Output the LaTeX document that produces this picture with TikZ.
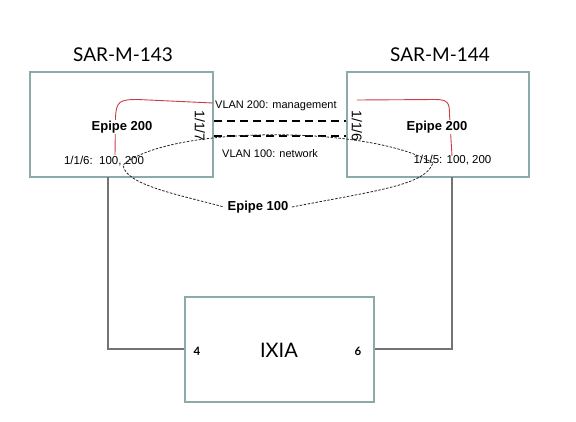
\documentclass[tikz,border=0pt]{standalone}
\usepackage{fontspec}
\setmainfont{Liberation Sans}
\newfontfamily\titlefont{Lato}
\usepackage{tikz}
\usetikzlibrary{positioning}
\definecolor{boxteal}{RGB}{140,170,170}
\definecolor{wiregray}{RGB}{115,115,115}
\definecolor{vlanred}{RGB}{205,60,70}
\newcommand{\fsz}[1]{\fontsize{#1}{#1}\selectfont}

\begin{document}
\begin{tikzpicture}[
    x=1pt, y=-1pt,
    router/.style={rectangle, draw=boxteal, line width=2pt, fill=none},
    title/.style={font=\titlefont\fsz{19}},
    epipe/.style={font=\bfseries\fsz{13}, fill=white, inner sep=1pt, anchor=base},
    portlbl/.style={font=\fsz{11.5}, anchor=base},
    vlanlbl/.style={font=\fsz{11}, anchor=base west, inner sep=0pt},
    link/.style={draw=wiregray, line width=1.2pt},
    trunk/.style={draw=black, line width=2.4pt, dash pattern=on 8pt off 5pt},
    svc/.style={draw=vlanred, line width=0.9pt},
    pw/.style={draw=black!85, line width=0.8pt, dash pattern=on 2.5pt off 1.5pt}
]
\useasboundingbox (0,0) rectangle (576,421);

% Routers
\node[router, minimum width=183pt, minimum height=105pt] (sar143) at (121.5,124.5) {};
\node[router, minimum width=182pt, minimum height=105pt] (sar144) at (438,124.5) {};
\node[title] (t143) at (123,55) {SAR-M-143};
\node[title] (t144) at (440,55) {SAR-M-144};

% Tester
\node[router, minimum width=189pt, minimum height=105pt] (ixia) at (279.5,349) {};
\node[font=\titlefont\fsz{20}] (ixialbl) at (279,350) {IXIA};
\node[font=\titlefont\bfseries\fsz{11.5}] (p4) at (197,351) {4};
\node[font=\titlefont\bfseries\fsz{11.5}] (p6) at (358,351) {6};

% Access links
\coordinate (drop143) at (108,177);
\coordinate (drop144) at (452,177);
\draw[link] (drop143) |- (ixia.west);
\draw[link] (drop144) |- (ixia.east);

% Network links between the routers
\draw[trunk] ([yshift=3.5pt]sar143.east) -- ([yshift=3.5pt]sar144.west);
\draw[trunk] ([yshift=-11.5pt]sar143.east) -- ([yshift=-11.5pt]sar144.west);
\node[font=\fsz{14}, rotate=-90] (p117) at (200,126) {1/1/7};
\node[font=\fsz{14}, rotate=-90] (p116) at (357,126) {1/1/6};
\node[vlanlbl] (vlan200) at (215,108) {VLAN 200: management};
\node[vlanlbl] (vlan100) at (222,157) {VLAN 100: network};

% Epipe 200 (red)
\coordinate (m143) at (115,155);
\coordinate (m144) at (452,156);
\coordinate (v143) at (213,103);
\coordinate (v144) at (357,100);
\draw[svc] (m143) -- (115.5,118) .. controls (116,101) and (120,99.5) .. (138,99.5) -- (v143);
\draw[svc] (v144) -- (435,99.5) .. controls (448,99.5) and (449.5,103) .. (449.5,114) -- (m144);

% Ports
\node[portlbl] (acc143) at (104,164) {1/1/6:\ \ 100, 200};
\node[portlbl] (acc144) at (452.5,163) {1/1/5: 100, 200};
\node[epipe] (e143) at (122,130) {Epipe 200};
\node[epipe] (e144) at (437,130) {Epipe 200};

% Epipe 100 (dotted)
\node[font=\bfseries\fsz{13}] (e100) at (258,207) {Epipe 100};
\coordinate (j143) at (123,165);
\coordinate (j144) at (433,163);
\draw[pw] (j144) .. controls (370,125) and (170,125) .. (j143)
    .. controls (125,185) and (180,195) .. (e100.west);
\draw[pw] (e100.east) .. controls (380,190) and (425,185) .. (j144);

\end{tikzpicture}
\end{document}
